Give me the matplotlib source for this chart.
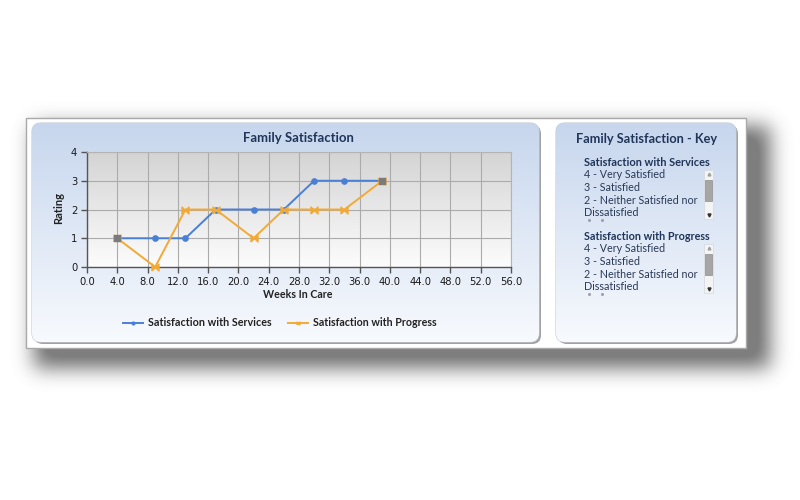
import numpy as np
import matplotlib
matplotlib.use("Agg")
import matplotlib.pyplot as plt
from matplotlib.patches import FancyBboxPatch, Rectangle
from matplotlib.ticker import FormatStrFormatter
from matplotlib.lines import Line2D

# ---------------- data ----------------
weeks = [4, 9, 13, 17, 22, 26, 30, 34, 39]
services = [1, 1, 1, 2, 2, 2, 3, 3, 3]
progress = [1, 0, 2, 2, 1, 2, 2, 2, 3]
series_names = ["Satisfaction with Services", "Satisfaction with Progress"]
x_ticks = [0, 4, 8, 12, 16, 20, 24, 28, 32, 36, 40, 44, 48, 52, 56]
y_ticks = [0, 1, 2, 3, 4]
chart_title = "Family Satisfaction"
x_label = "Weeks In Care"
y_label = "Rating"
key_title = "Family Satisfaction - Key"
key_items = ["4 - Very Satisfied", "3 - Satisfied",
             "2 - Neither Satisfied nor", "Dissatisfied"]

W, H = 800, 500
fig = plt.figure(figsize=(8, 5), dpi=100)
fig.patch.set_facecolor("white")

bg = fig.add_axes([0, 0, 1, 1])
bg.set_xlim(0, W)
bg.set_ylim(H, 0)
bg.axis("off")

FONT = "Lato"

# ---------------- drop shadow ----------------
mask = np.zeros((H, W))
mask[126:368, 34:770] = 1.0
sig = 10
k = np.arange(-3 * sig, 3 * sig + 1)
ker = np.exp(-0.5 * (k / sig) ** 2)
ker /= ker.sum()
blur = np.apply_along_axis(lambda r: np.convolve(r, ker, mode="same"), 1, mask)
blur = np.apply_along_axis(lambda c: np.convolve(c, ker, mode="same"), 0, blur)
sh = np.zeros((H, W, 4))
sh[..., :3] = 0.28
sh[..., 3] = np.clip(0.8 * blur, 0, 0.7)
bg.imshow(sh, extent=(0, W, H, 0), zorder=0, interpolation="bilinear")

# outer white frame
bg.add_patch(Rectangle((26, 118), 720, 230, facecolor="white",
                       edgecolor="#a9a9a9", lw=1, zorder=1))


def panel(x0, y0, w, h):
    shadow = FancyBboxPatch((x0 + 2, y0 + 2), w, h,
                            boxstyle="round,pad=0,rounding_size=9",
                            facecolor="#a2a2a2", edgecolor="none", zorder=2)
    bg.add_patch(shadow)
    p = FancyBboxPatch((x0, y0), w, h, boxstyle="round,pad=0,rounding_size=9",
                       facecolor="#eef3fa", edgecolor="#c4c9d2", lw=0.8,
                       zorder=3)
    bg.add_patch(p)
    top = np.array([0.78, 0.84, 0.93])
    bot = np.array([0.97, 0.98, 0.995])
    t = np.linspace(0, 1, 200)[:, None]
    grad = (top * (1 - t) + bot * t)[:, None, :]
    im = bg.imshow(grad, extent=(x0, x0 + w, y0 + h, y0), aspect="auto",
                   zorder=3.5, interpolation="bilinear")
    im.set_clip_path(p)


panel(32, 123, 507, 219)
panel(556, 123, 180, 219)
bg.set_xlim(0, W)
bg.set_ylim(H, 0)

navy = "#1f3559"

# ---------------- chart ----------------
def px_axes(x0, y0, x1, y1):
    return fig.add_axes([x0 / W, 1 - y1 / H, (x1 - x0) / W, (y1 - y0) / H])


ax = px_axes(87, 152, 511, 267)
ax.set_zorder(5)
g = np.linspace(0, 1, 200)[:, None]
ctop = np.array([0.83, 0.83, 0.83])
cbot = np.array([0.99, 0.99, 0.99])
pg = (ctop * (1 - g) + cbot * g)[:, None, :]
ax.imshow(pg, extent=(0, 1, 0, 1), transform=ax.transAxes, aspect="auto",
          zorder=0, interpolation="bilinear")
ax.set_xlim(x_ticks[0], x_ticks[-1])
ax.set_ylim(y_ticks[0], y_ticks[-1])
ax.set_xticks(x_ticks)
ax.set_yticks(y_ticks)
ax.xaxis.set_major_formatter(FormatStrFormatter("%.1f"))
ax.grid(True, color="#ababab", lw=0.8, zorder=1)
ax.set_axisbelow(True)
for s in ["top", "right"]:
    ax.spines[s].set_color("#b4b4b4")
for s in ["left", "bottom"]:
    ax.spines[s].set_color("#555555")
    ax.spines[s].set_linewidth(1.0)
ax.tick_params(direction="out", length=4, width=1, color="#555555",
               labelsize=7.2, labelcolor="#1a1a1a", pad=3)

blue = "#4a7fd6"
orange = "#f2aa35"
bowtie = [(-1, -1), (-1, 1), (1, -1), (1, 1), (-1, -1)]
ax.plot(weeks, services, color=blue, lw=1.4, marker="o", ms=3.8,
        zorder=4, clip_on=False)
ax.plot(weeks, progress, color=orange, lw=1.4, marker=bowtie, ms=5,
        zorder=5, clip_on=False)
ends = [0, len(weeks) - 1]
ax.plot([weeks[i] for i in ends], [services[i] for i in ends], ls="none",
        marker="s", ms=4.5, color="#7b7b7b", zorder=6, clip_on=False)

# axis labels (placed in pixel space)
xl = bg.text(298, 295, x_label, ha="center", va="center", fontsize=8,
             fontweight="bold", color="#222222", family=FONT, zorder=6)
yl = bg.text(59, 208, y_label, ha="center", va="center", fontsize=8,
             fontweight="bold", color="#222222", family=FONT, rotation=90,
             zorder=6)

# legend, drawn manually
leg_texts = []
for (lx0, lx1, tx, name, col, mk) in [
        (123, 143, 148, series_names[0], blue, "o"),
        (288, 308, 313, series_names[1], orange, bowtie)]:
    bg.add_line(Line2D([lx0, lx1], [323, 323], color=col, lw=1.4, zorder=6))
    bg.plot([(lx0 + lx1) / 2], [323], ls="none", marker=mk, ms=2, color=col,
            zorder=6)
    leg_texts.append(bg.text(tx, 323, name, ha="left", va="center",
                             fontsize=8, fontweight="bold", color="#222222",
                             family=FONT, zorder=6))

ct = bg.text(298, 138, chart_title, ha="center", va="center", fontsize=10.5,
             fontweight="bold", color=navy, family=FONT, zorder=6)

# ---------------- key panel ----------------
kt = bg.text(647, 139, key_title, ha="center", va="center", fontsize=10,
             fontweight="bold", color=navy, family=FONT, zorder=6)

heads = []
items = []


def key_block(y_head, name):
    heads.append(bg.text(584, y_head, name, ha="left", va="center",
                         fontsize=7.6, fontweight="bold", color=navy,
                         family=FONT, zorder=6))
    for i, item in enumerate(key_items):
        items.append(bg.text(584, y_head + 13 + i * 12.5, item, ha="left",
                             va="center", fontsize=7.6, color="#2a3a58",
                             family=FONT, zorder=6))
    top = y_head + 8
    bg.add_patch(Rectangle((704, top), 9, 49, facecolor="#f3f4f6",
                           edgecolor="#d8dbe0", lw=0.6, zorder=6))
    bg.add_patch(Rectangle((705, top + 10), 7, 21, facecolor="#a6a6a6",
                           edgecolor="#8e8e8e", lw=0.5, zorder=7))
    bg.plot([708.5], [top + 4], ls="none", marker="^", ms=2,
            color="#a0a0a0", zorder=7)
    bg.plot([708.5], [top + 45], ls="none", marker="v", ms=2.2,
            color="#333333", zorder=7)
    bg.plot([589, 602], [y_head + 58, y_head + 58], ls="none", marker="s",
            ms=1, color="#9a9aaa", zorder=6)


key_block(162, series_names[0])
key_block(236, series_names[1])

# fit font sizes to measured widths in the reference
fig.canvas.draw()
r = fig.canvas.get_renderer()


def fit(t, target, vertical=False):
    bb = t.get_window_extent(r)
    cur = bb.height if vertical else bb.width
    t.set_fontsize(t.get_fontsize() * target / cur)


fit(ct, 111)
fit(kt, 141)
for h in heads:
    fit(h, 125)
for i, it in enumerate(items):
    if i % 4 == 0:
        fit(it, 81)
        s = it.get_fontsize()
    else:
        it.set_fontsize(s)
for lt in leg_texts:
    fit(lt, 124)
fit(xl, 70)
fit(yl, 32, vertical=True)

fig.savefig("out.png", dpi=100)
